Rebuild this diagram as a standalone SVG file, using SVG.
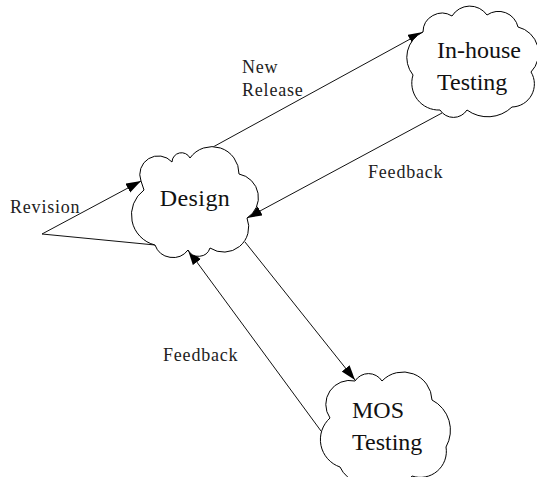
<svg xmlns="http://www.w3.org/2000/svg" width="537" height="477" viewBox="0 0 537 477">
<style>
.cloud{fill:#fff;stroke:#000;stroke-width:1}
.lbl{font-family:"Liberation Serif","Times New Roman",serif;font-size:18px;letter-spacing:0.8px;fill:#222}
.ntxt{font-family:"Liberation Serif","Times New Roman",serif;font-size:24px;fill:#111}
.conn{stroke:#111;stroke-width:1;fill:none}
.arr{marker-end:url(#ah)}
</style>
<defs>
<marker id="ah" markerUnits="userSpaceOnUse" markerWidth="16" markerHeight="12" refX="15" refY="5" orient="auto">
<path d="M0,0 L15,5 L0,10 z" fill="#000"/>
</marker>
</defs>
<rect width="537" height="477" fill="#fff"/>
<g id="connectors">
<path class="conn arr" d="M42,234 L141,181"/>
<path class="conn" d="M42,234 L155,245"/>
<path class="conn arr" d="M213,147 L423,32"/>
<path class="conn arr" d="M442,113 L247,218"/>
<path class="conn arr" d="M245,242 L355,380"/>
<path class="conn arr" d="M321,431 L188,250"/>
</g>
<g id="design">
<path class="cloud" d="M141,181 A18.5,18.5 0 0 1 172,162 A9.5,9.5 0 0 1 190,158 A27,27 0 0 1 239,174 A24,24 0 0 1 247,218 A25,25 0 0 1 210,248 A12,12 0 0 1 188,250 A19,19 0 0 1 155,245 A31,31 0 0 1 144,190 L141,181 Z"/>
<text class="ntxt" x="195" y="206" text-anchor="middle" letter-spacing="0.4">Design</text>
</g>
<g id="inhouse">
<path class="cloud" d="M423,32 A19,19 0 0 1 452,16 A21,21 0 0 1 487,15 A20,20 0 0 1 518,27 A27,27 0 0 1 531,72 A23,23 0 0 1 512,107 A35,35 0 0 1 467,110 A16,16 0 0 1 440,110 A27,27 0 0 1 413,75 A28,28 0 0 1 423,32 Z"/>
<text class="ntxt" x="437" y="58">In-house</text>
<text class="ntxt" x="437" y="90">Testing</text>
</g>
<g id="mos">
<path class="cloud" d="M330,418 A24,24 0 0 1 355,381 A16,16 0 0 1 382,381 A29,29 0 0 1 432,400 A34,34 0 0 1 446,447 A26,26 0 0 1 412,476 A18,18 0 0 1 382,478 A28,28 0 0 1 340,467 A29,29 0 0 1 330,418 Z"/>
<text class="ntxt" x="352" y="418">MOS</text>
<text class="ntxt" x="352" y="450">Testing</text>
</g>
<g id="labels">
<text class="lbl" x="10" y="213">Revision</text>
<text class="lbl" x="242" y="73">New</text>
<text class="lbl" x="242" y="96">Release</text>
<text class="lbl" x="368" y="178">Feedback</text>
<text class="lbl" x="163" y="361">Feedback</text>
</g>
</svg>
